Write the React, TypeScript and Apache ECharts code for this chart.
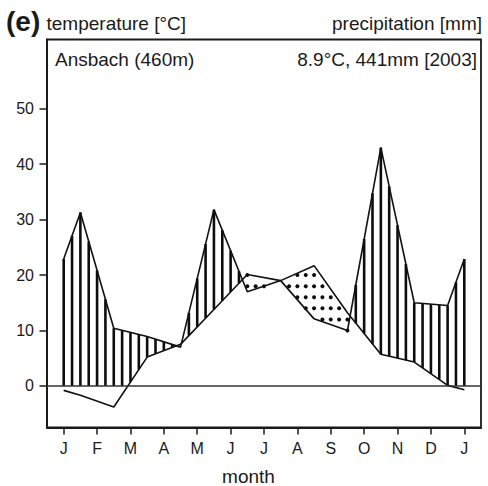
import React, { useEffect, useRef } from "react";
import * as echarts from "echarts";

// ---- data ----
const monthLabels = ["J", "F", "M", "A", "M", "J", "J", "A", "S", "O", "N", "D", "J"];
const monthTicks = [0, 1, 2, 3, 4, 5, 6, 7, 8, 9, 10, 11, 12];
const tempTicks = [0, 10, 20, 30, 40, 50];
// x positions (in months): start edge, mid-months, end edge
const pointX = [0, 0.5, 1.5, 2.5, 3.5, 4.5, 5.5, 6.5, 7.5, 8.5, 9.5, 10.5, 11.5, 12];
// temperature [°C]
const temperature = [-0.8, -1.7, -3.8, 5.2, 7.5, 13.8, 20.1, 19.0, 21.7, 13.2, 5.7, 4.3, 0.1, -0.7];
// precipitation [mm]
const precipitation = [45.8, 62.6, 20.8, 17.8, 14.0, 63.6, 34.0, 38.0, 24.2, 20.0, 86.0, 30.0, 29.0, 45.8];

const stationName = "Ansbach (460m)";
const stationInfo = "8.9°C, 441mm [2003]";
const PRECIP_SCALE = 2; // mm per °C on the diagram
const TEMP_MIN = -7.5;
const TEMP_MAX = 62.5;

const FONT = "'Liberation Sans', Arial, Helvetica, sans-serif";
const INK = "#1a1a1a";

function interp(xs: number[], ys: number[], x: number): number {
  for (let i = 0; i < xs.length - 1; i++) {
    if (x >= xs[i] && x <= xs[i + 1]) {
      const t = (x - xs[i]) / (xs[i + 1] - xs[i]);
      return ys[i] + t * (ys[i + 1] - ys[i]);
    }
  }
  return ys[ys.length - 1];
}

export default function App() {
  const ref = useRef<HTMLDivElement>(null);

  useEffect(() => {
    if (!ref.current) return;
    const chart = echarts.init(ref.current, undefined, { renderer: "svg" });
    const precipScaled = precipitation.map((p) => p / PRECIP_SCALE);

    const renderHatch = (_params: any, api: any) => {
      const children: any[] = [];
      // vertical hatching: humid period (precipitation above temperature)
      for (let k = 0; k <= 48; k++) {
        const x = k * 0.25;
        const t = interp(pointX, temperature, x);
        const p = interp(pointX, precipScaled, x);
        const lower = Math.max(t, 0);
        if (p > lower + 0.05) {
          const a = api.coord([x, lower]);
          const b = api.coord([x, p]);
          children.push({
            type: "line",
            shape: { x1: a[0], y1: a[1], x2: b[0], y2: b[1] },
            style: { stroke: "#0d0d0d", lineWidth: 2.6 },
          });
        }
      }
      // dots: arid period (temperature above precipitation)
      for (let k = 0; k <= 48; k++) {
        const x = k * 0.25;
        const t = interp(pointX, temperature, x);
        const p = interp(pointX, precipScaled, x);
        if (t <= p) continue;
        for (let j = 1; j <= 30; j++) {
          const y = j * 2;
          if (y <= t + 0.15 && y >= p - 0.05) {
            const c = api.coord([x, y]);
            children.push({
              type: "circle",
              shape: { cx: c[0], cy: c[1], r: 2 },
              style: { fill: "#0d0d0d" },
            });
          }
        }
      }
      return { type: "group", children };
    };

    const option: any = {
      animation: false,
      grid: {
        left: 47,
        right: 7,
        top: 39.5,
        bottom: 58.5,
        show: true,
        borderColor: INK,
        borderWidth: 1.8,
        backgroundColor: "transparent",
      },
      xAxis: {
        type: "value",
        min: -0.5,
        max: 12.5,
        axisLine: { show: true, onZero: false, lineStyle: { color: INK, width: 1.8 } },
        splitLine: { show: false },
        axisTick: {
          show: true,
          customValues: monthTicks,
          length: 7,
          lineStyle: { color: INK, width: 1.5 },
        },
        axisLabel: {
          customValues: monthTicks,
          formatter: (v: number) => monthLabels[Math.round(v)],
          margin: 13,
          fontSize: 16,
          color: INK,
          fontFamily: FONT,
        },
      },
      yAxis: [
        {
          type: "value",
          min: TEMP_MIN,
          max: TEMP_MAX,
          axisLine: { show: true, onZero: false, lineStyle: { color: INK, width: 1.8 } },
          splitLine: { show: false },
          axisTick: {
            show: true,
            customValues: tempTicks,
            length: 7.5,
            lineStyle: { color: INK, width: 1.5 },
          },
          axisLabel: {
            customValues: tempTicks,
            margin: 13,
            fontSize: 16,
            color: INK,
            fontFamily: FONT,
          },
        },
        {
          type: "value",
          min: TEMP_MIN * PRECIP_SCALE,
          max: TEMP_MAX * PRECIP_SCALE,
          show: false,
        },
      ],
      series: [
        {
          type: "custom",
          name: "hatch",
          coordinateSystem: "cartesian2d",
          xAxisIndex: 0,
          yAxisIndex: 0,
          data: [[0, 0]],
          renderItem: renderHatch,
          silent: true,
          z: 1,
        },
        {
          type: "line",
          name: "temperature",
          xAxisIndex: 0,
          yAxisIndex: 0,
          data: pointX.map((x, i) => [x, temperature[i]]),
          showSymbol: false,
          lineStyle: { color: "#111", width: 1.6 },
          z: 3,
          markLine: {
            silent: true,
            symbol: "none",
            label: { show: false },
            lineStyle: { color: "#333", width: 1.6, type: "solid" },
            data: [{ yAxis: 0 }],
          },
        },
        {
          type: "line",
          name: "precipitation",
          xAxisIndex: 0,
          yAxisIndex: 1,
          data: pointX.map((x, i) => [x, precipitation[i]]),
          showSymbol: false,
          lineStyle: { color: "#111", width: 1.6 },
          z: 3,
        },
      ],
      graphic: [
        {
          type: "text",
          x: 6,
          y: 21,
          style: {
            text: "(e)",
            font: `bold 28px ${FONT}`,
            fill: INK,
            verticalAlign: "middle",
          },
        },
        {
          type: "text",
          x: 46.5,
          y: 23.5,
          style: {
            text: "temperature [°C]",
            font: `19px ${FONT}`,
            fill: INK,
            verticalAlign: "middle",
          },
        },
        {
          type: "text",
          x: 482,
          y: 23.5,
          style: {
            text: "precipitation [mm]",
            font: `19px ${FONT}`,
            fill: INK,
            align: "right",
            verticalAlign: "middle",
          },
        },
        {
          type: "text",
          x: 55,
          y: 59,
          style: {
            text: stationName,
            font: `19px ${FONT}`,
            fill: INK,
            align: "left",
            verticalAlign: "middle",
          },
        },
        {
          type: "text",
          x: 477,
          y: 59,
          style: {
            text: stationInfo,
            font: `19px ${FONT}`,
            fill: INK,
            align: "right",
            verticalAlign: "middle",
          },
        },
        {
          type: "text",
          x: 248.5,
          y: 476,
          style: {
            text: "month",
            font: `19px ${FONT}`,
            fill: INK,
            align: "center",
            verticalAlign: "middle",
          },
        },
      ],
    };

    chart.setOption(option);
    return () => chart.dispose();
  }, []);

  return (
    <div
      ref={ref}
      style={{ position: "fixed", left: 0, top: 0, width: 488, height: 486, background: "#fff" }}
    />
  );
}
